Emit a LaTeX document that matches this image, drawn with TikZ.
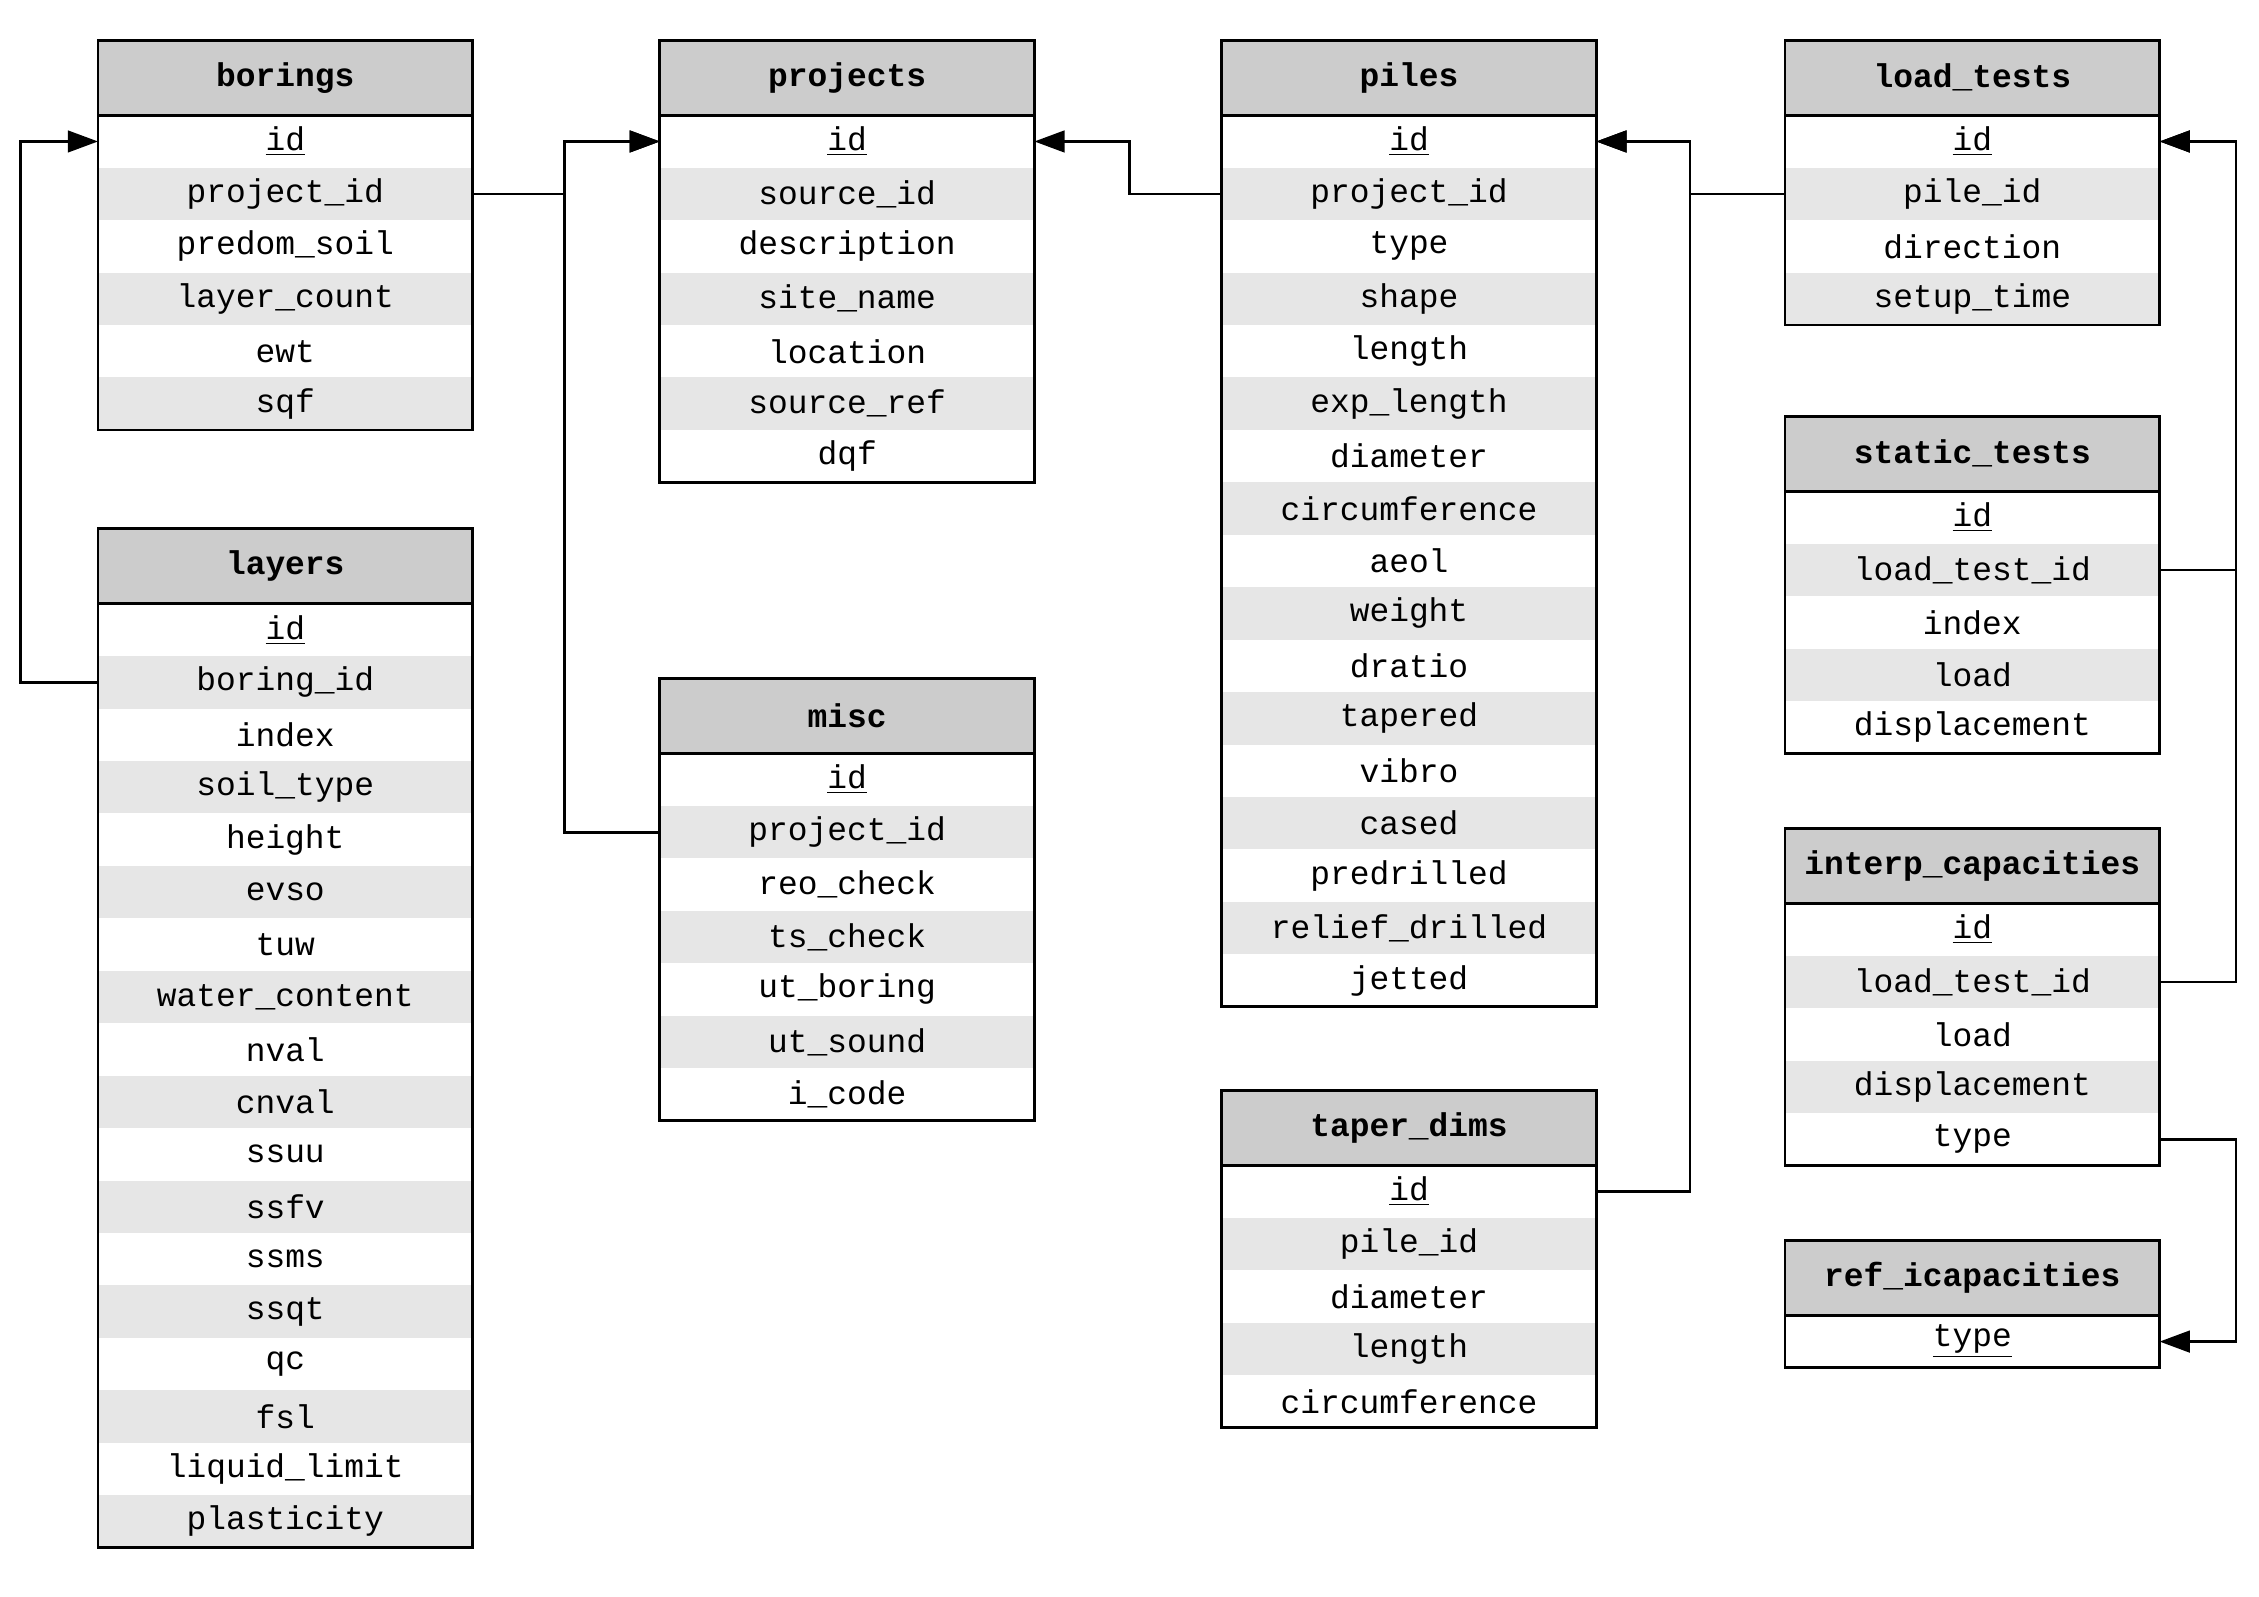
\documentclass[tikz,border=0pt]{standalone}
\usepackage{fontspec}
\setmonofont{Liberation Mono}
\usetikzlibrary{arrows.meta}
\definecolor{hdrgray}{HTML}{CCCCCC}
\definecolor{rowgray}{HTML}{E6E6E6}
\tikzset{
 hdr/.style={fill=hdrgray,minimum width=5.2cm,minimum height=1.04cm,inner sep=0,outer sep=0,font=\fontsize{13}{15}\selectfont\ttfamily\bfseries},
 rowbox/.style={minimum width=5.2cm,minimum height=0.728cm,inner sep=0,outer sep=0,font=\fontsize{13}{15}\selectfont\ttfamily},
 conn/.style={line width=1.1pt,-{Triangle[length=0.42cm,width=0.3cm]}},
 frame/.style={line width=1.1pt}
}
\newcommand\dbtable[6]{%
 \node[hdr] (#1-h) at (#2+130,#3+26) {#4};
 \foreach \t [count=\i] in {#5} {
   \ifodd\i\def\fc{white}\else\def\fc{rowgray}\fi
   \node[rowbox,fill=\fc] (#1-\i) at (#2+130,#3+52+\i*36.4-18.2) {\t};
 }
 \draw[frame] (#2,#3) rectangle (#2+260,#3+52+#6*36.4);
 \draw[frame] (#2,#3+52) -- (#2+260,#3+52);
}
\begin{document}
\begin{tikzpicture}[x=0.02cm,y=-0.02cm]
\useasboundingbox (0,0) rectangle (1568,1108);
\dbtable{bo}{68}{28}{borings}{{\underline{id}},project\_id,predom\_soil,layer\_count,ewt,sqf}{6}
\dbtable{la}{68}{367}{layers}{{\underline{id}},boring\_id,index,soil\_type,height,evso,tuw,water\_content,nval,cnval,ssuu,ssfv,ssms,ssqt,qc,fsl,liquid\_limit,plasticity}{18}
\dbtable{pr}{458}{28}{projects}{{\underline{id}},source\_id,description,site\_name,location,source\_ref,dqf}{7}
\dbtable{mi}{458}{471}{misc}{{\underline{id}},project\_id,reo\_check,ts\_check,ut\_boring,ut\_sound,i\_code}{7}
\dbtable{pi}{848}{28}{piles}{{\underline{id}},project\_id,type,shape,length,exp\_length,diameter,circumference,aeol,weight,dratio,tapered,vibro,cased,predrilled,relief\_drilled,jetted}{17}
\dbtable{td}{848}{757}{taper\_dims}{{\underline{id}},pile\_id,diameter,length,circumference}{5}
\dbtable{lt}{1239}{28}{load\_tests}{{\underline{id}},pile\_id,direction,setup\_time}{4}
\dbtable{st}{1239}{289}{static\_tests}{{\underline{id}},load\_test\_id,index,load,displacement}{5}
\dbtable{ic}{1239}{575}{interp\_capacities}{{\underline{id}},load\_test\_id,load,displacement,type}{5}
\dbtable{ri}{1239}{861}{ref\_icapacities}{{\underline{type}}}{1}
\draw[conn] (bo-2.east) -- ++(64,0) |- (pr-1.west);
\draw[conn] (mi-2.west) -- ++(-66,0) |- (pr-1.west);
\draw[conn] (la-2.west) -- ++(-54,0) |- (bo-1.west);
\draw[conn] (pi-2.west) -- ++(-64,0) |- (pr-1.east);
\draw[conn] (lt-2.west) -- ++(-66,0) |- (pi-1.east);
\draw[conn] (td-1.east) -- ++(65,0) |- (pi-1.east);
\draw[conn] (st-2.east) -- ++(53,0) |- (lt-1.east);
\draw[conn] (ic-2.east) -- ++(53,0) |- (lt-1.east);
\draw[conn] (ic-5.east) -- ++(53,0) |- (ri-1.east);
\end{tikzpicture}
\end{document}
